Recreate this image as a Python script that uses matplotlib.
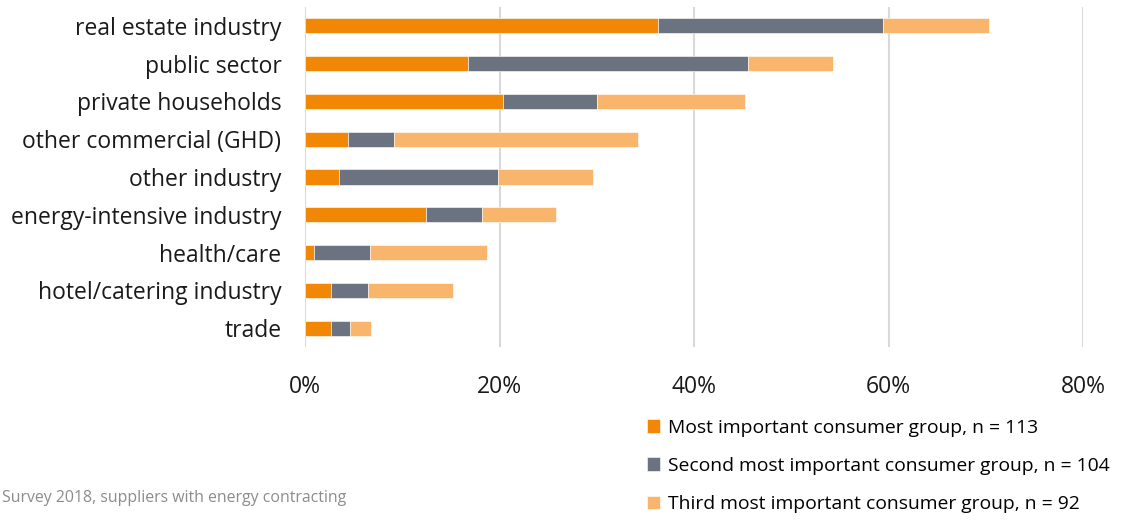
import matplotlib
matplotlib.use("Agg")
import matplotlib.pyplot as plt
from matplotlib.ticker import FuncFormatter
import numpy as np

plt.rcParams['font.family'] = ['Open Sans', 'DejaVu Sans']

categories = [
    "real estate industry", "public sector", "private households",
    "other commercial (GHD)", "other industry", "energy-intensive industry",
    "health/care", "hotel/catering industry", "trade",
]
most_important = [36.3, 16.8, 20.4, 4.4, 3.5, 12.4, 0.9, 2.7, 2.7]
second_important = [23.1, 28.8, 9.6, 4.8, 16.3, 5.8, 5.8, 3.8, 1.9]
third_important = [10.9, 8.7, 15.2, 25.0, 9.8, 7.6, 12.0, 8.7, 2.2]
series_labels = [
    "Most important consumer group, n = 113",
    "Second most important consumer group, n = 104",
    "Third most important consumer group, n = 92",
]
x_ticks = [0, 20, 40, 60, 80]
source_note = "Survey 2018, suppliers with energy contracting"

colors = ["#F28705", "#6A737F", "#F8B56B"]

W, H = 1125, 520
fig = plt.figure(figsize=(W / 100, H / 100), dpi=100)
ax = fig.add_axes([305 / W, 1 - 347 / H, (1083 - 305) / W, (347 - 7) / H])

y = np.arange(len(categories))
left = np.zeros(len(categories))
for vals, col, lab in zip([most_important, second_important, third_important], colors, series_labels):
    ax.barh(y, vals, left=left, height=0.4, color=col, label=lab,
            edgecolor="white", linewidth=0.4, zorder=3)
    left += np.array(vals)

ax.set_ylim(len(categories) - 0.5, -0.5)
ax.set_xlim(0, 80)
ax.set_xticks(x_ticks)
ax.xaxis.set_major_formatter(FuncFormatter(lambda v, p: f"{v:.0f}%"))
ax.set_yticks(y)
ax.set_yticklabels(categories)
ax.grid(axis="x", color="#D9D9D9", linewidth=1.5, zorder=0)
ax.set_axisbelow(True)
for s in ax.spines.values():
    s.set_visible(False)
ax.tick_params(axis="both", length=0, labelsize=16.5, colors="#1a1a1a")
ax.tick_params(axis="x", pad=20)
ax.tick_params(axis="y", pad=17)

handles, labels = ax.get_legend_handles_labels()
fig.legend(handles, labels, loc="upper left", bbox_to_anchor=(637 / W, 1 - 409 / H),
           frameon=False, fontsize=13.9, handlelength=0.7, handleheight=0.7,
           handletextpad=0.4, labelspacing=1.05, borderpad=0)

fig.text(2 / W, 1 - 498 / H, source_note, ha="left", va="center",
         fontsize=11.4, color="#8C8C8C")

fig.savefig("out.png", dpi=100)
